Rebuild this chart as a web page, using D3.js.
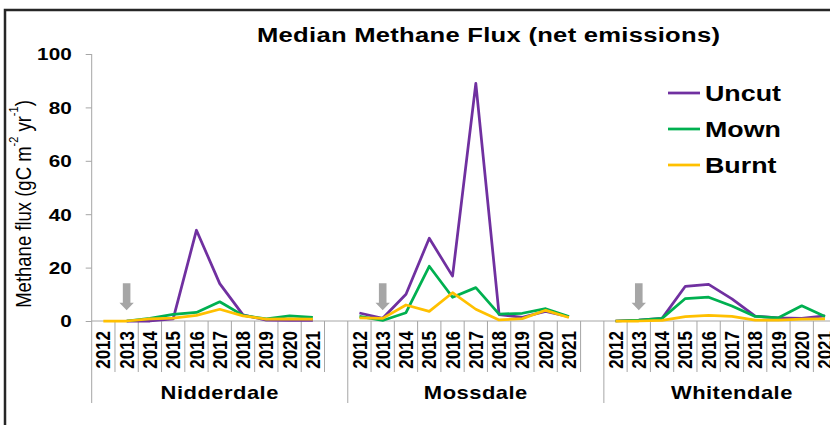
<!DOCTYPE html>
<html>
<head>
<meta charset="utf-8">
<script src="https://cdn.jsdelivr.net/npm/d3@7"></script>
<style>
    body { margin: 0; background: #fff; }
    svg { display: block; font-family: "Liberation Sans", Arial, sans-serif; }
</style>
</head>
<body>
<div id="chart"></div>
<script>
// sites and years on the category axis
const sites = ["Nidderdale", "Mossdale", "Whitendale"];
const years = ["2012", "2013", "2014", "2015", "2016", "2017", "2018", "2019", "2020", "2021"];
const yTicks = [0, 20, 40, 60, 80, 100];

// median methane flux per site, 2012..2021
const uncut = {
    Nidderdale: [null, 0, 0, 0.8, 34, 14, 2.3, 0.3, 0.2, 0.2],
    Mossdale:   [3, 1, 10, 31, 16.8, 89, 2.4, 1.4, 3.6, 1.6],
    Whitendale: [0, 0.3, 1, 13, 13.7, 8.3, 1.8, 1.2, 1, 1.9]
};
const mown = {
    Nidderdale: [null, 0, 1, 2.5, 3.2, 7.2, 2.1, 0.8, 1.9, 1.4],
    Mossdale:   [1.7, 0.2, 3.1, 20.5, 8.9, 12.5, 2.6, 2.9, 4.6, 1.7],
    Whitendale: [0, 0.3, 1, 8.4, 8.9, 5.6, 1.7, 1.2, 5.7, 1.7]
};
const burnt = {
    Nidderdale: [0, 0, 0.8, 1.1, 2.1, 4.4, 1.9, 0.7, 0.8, 0.7],
    Mossdale:   [1.2, 1, 6, 3.6, 10.6, 4.4, 0.4, 0.9, 4, 1.3],
    Whitendale: [0, 0, 0.2, 1.6, 2.1, 1.7, 0.3, 0.3, 0.7, 0.8]
};
const arrowYear = "2013"; // treatment marker

const series = [
    {name: "Uncut", values: uncut, color: "#7030a0"},
    {name: "Mown", values: mown, color: "#00b050"},
    {name: "Burnt", values: burnt, color: "#ffc000"}
];

const width = 830, height = 425;
const sx = 1.22; // the original picture is a bit wider than it is tall
const margin = {left: 91.7, top: 54, bottom: 321};

// one band per year, plus an empty one closing the first two sites
const cats = [];
sites.forEach((s, i) => {
    years.forEach(yr => cats.push(s + "|" + yr));
    if (i < sites.length - 1) cats.push(s + "|");
});

const x = d3.scaleBand().domain(cats).range([margin.left, margin.left + cats.length * 23.28]);
const y = d3.scaleLinear().domain([0, 100]).range([margin.bottom, margin.top]);
const cx = k => x(k) + x.bandwidth() / 2;

const svg = d3.select("#chart").append("svg")
    .attr("width", width)
    .attr("height", height);

// frame
svg.append("path")
    .attr("d", `M5,${height + 5}V10H${width + 5}`)
    .attr("fill", "none")
    .attr("stroke", "#262626")
    .attr("stroke-width", 2.5);

function stretched(g, tx, ty, rot) {
    return g.append("text")
        .attr("transform", `translate(${tx},${ty}) scale(${sx},1)` + (rot ? ` rotate(${rot})` : ""));
}

// title
stretched(svg, 488.5, 41.5)
    .attr("text-anchor", "middle")
    .attr("font-size", 21)
    .attr("font-weight", "bold")
    .attr("textLength", 463 / sx)
    .attr("lengthAdjust", "spacing")
    .text("Median Methane Flux (net emissions)");

// y axis
const yAxis = svg.append("g")
    .attr("transform", `translate(${margin.left},0)`)
    .call(d3.axisLeft(y).tickValues(yTicks).tickSize(6).tickFormat(d3.format("d")));
yAxis.selectAll("line, path").attr("stroke", "#a6a6a6");
yAxis.select(".domain").attr("d", `M0,${margin.top}V${margin.bottom}`);
yAxis.selectAll(".tick text")
    .attr("x", null)
    .attr("dy", "0.35em")
    .attr("transform", `translate(-20,0) scale(${sx},1)`)
    .attr("font-size", 17)
    .attr("font-weight", "bold")
    .attr("font-family", "Liberation Sans, Arial, sans-serif")
    .attr("fill", "#000");

// y axis title
const yt = stretched(svg, 22.5, 204, -90)
    .attr("text-anchor", "middle")
    .attr("dominant-baseline", "central")
    .attr("font-size", 18.5);
yt.append("tspan").text("Methane flux (gC m");
yt.append("tspan").attr("font-size", 11).attr("dy", -7).text("-2");
yt.append("tspan").attr("dy", 7).text(" yr");
yt.append("tspan").attr("font-size", 11).attr("dy", -7).text("-1");
yt.append("tspan").attr("dy", 7).text(")");

// x axis: baseline, category ticks and site separators
const xg = svg.append("g").attr("stroke", "#a6a6a6").attr("stroke-width", 1);
xg.append("line")
    .attr("x1", margin.left).attr("x2", x.range()[1])
    .attr("y1", y(0)).attr("y2", y(0));
xg.selectAll("line.tick")
    .data(cats)
    .enter()
    .append("line")
    .attr("class", "tick")
    .attr("x1", d => x(d)).attr("x2", d => x(d))
    .attr("y1", y(0))
    .attr("y2", d => d.endsWith("|2012") ? 403 : 372);

svg.append("g")
    .selectAll("text")
    .data(cats.filter(d => !d.endsWith("|")))
    .enter()
    .each(function (d) {
        stretched(d3.select(this), cx(d), 331, -90)
            .attr("text-anchor", "end")
            .attr("dominant-baseline", "central")
            .attr("font-size", 17)
            .attr("font-weight", "bold")
            .text(d.split("|")[1]);
    });

sites.forEach(s => {
    const x0 = x(s + "|2012");
    const x1 = x0 + 11 * x.bandwidth();
    stretched(svg, (x0 + x1) / 2, 399)
        .attr("text-anchor", "middle")
        .attr("font-size", 18)
        .attr("font-weight", "bold")
        .attr("letter-spacing", 0.4)
        .text(s);
});

// grey arrows marking the treatment year
sites.forEach(s => {
    const ax = cx(s + "|" + arrowYear), tip = y(4);
    svg.append("path")
        .attr("d", `M${ax - 3.8},${tip - 27}H${ax + 3.8}V${tip - 7.5}H${ax + 7.2}L${ax},${tip}L${ax - 7.2},${tip - 7.5}H${ax - 3.8}Z`)
        .attr("fill", "#a6a6a6");
});

// lines, one path per site so the gaps between sites stay open
const line = d3.line()
    .defined(d => d.v != null)
    .x(d => cx(d.k))
    .y(d => y(d.v));

series.forEach(se => {
    sites.forEach(s => {
        const pts = years.map((yr, i) => ({k: s + "|" + yr, v: se.values[s][i]}));
        svg.append("path")
            .datum(pts)
            .attr("d", line)
            .attr("fill", "none")
            .attr("stroke", se.color)
            .attr("stroke-width", 2.75)
            .attr("stroke-linejoin", "round");
    });
});

// legend
const legend = svg.append("g")
    .selectAll("g")
    .data(series)
    .enter()
    .append("g")
    .attr("transform", (d, i) => `translate(668,${93 + i * 36})`);
legend.append("line")
    .attr("x1", 0).attr("x2", 32)
    .attr("stroke", d => d.color)
    .attr("stroke-width", 2.75);
legend.each(function (d) {
    stretched(d3.select(this), 37, 0)
        .attr("dominant-baseline", "central")
        .attr("font-size", 22)
        .attr("font-weight", "bold")
        .text(d.name);
});
</script>
</body>
</html>
